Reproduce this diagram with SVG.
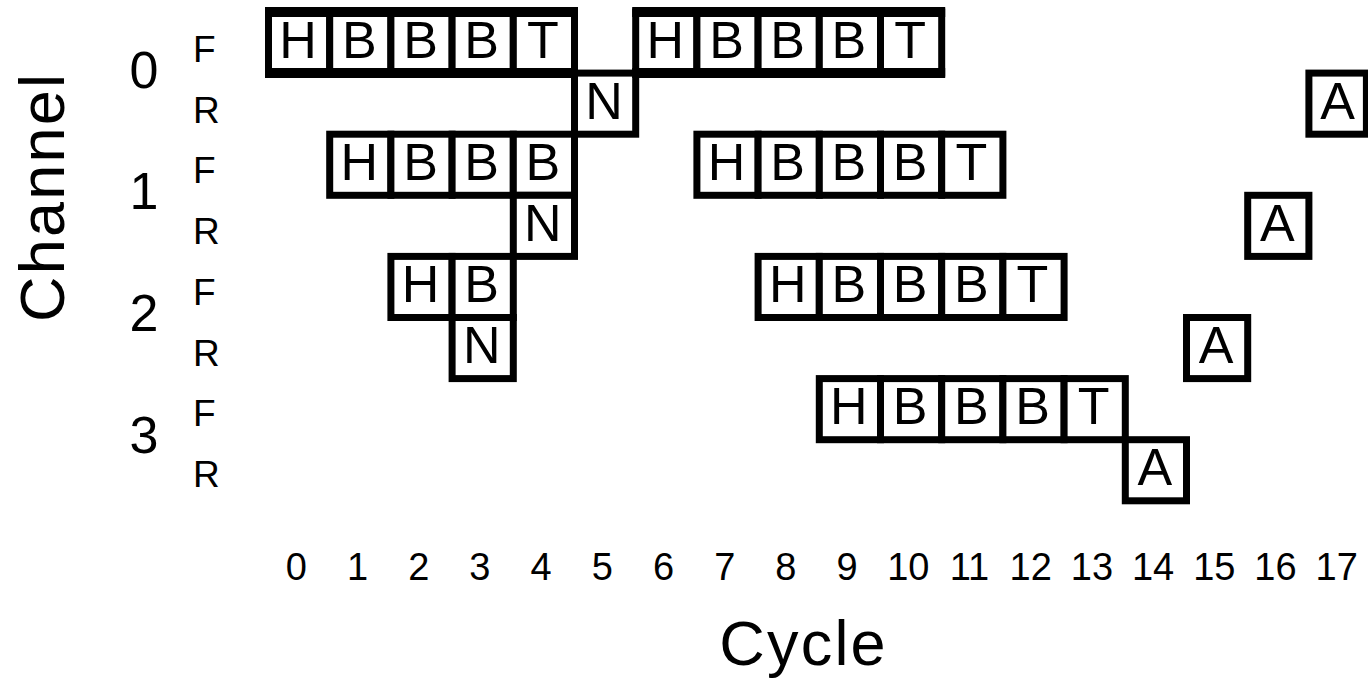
<svg xmlns="http://www.w3.org/2000/svg" width="1368" height="678" viewBox="0 0 1368 678">
<style>
.cell rect{fill:#fff;stroke:#000;stroke-width:7}
.cell text{font-family:"Liberation Sans",Arial,sans-serif;font-size:52px;text-anchor:middle;fill:#000}
.edge{stroke:#000;stroke-width:10;fill:none}
.lbl{font-family:"Liberation Sans",Arial,sans-serif;fill:#000}
.tick{font-size:38px;text-anchor:middle}
.dir{font-size:37px}
.chn{font-size:52px;text-anchor:middle}
.title{font-size:63px;letter-spacing:2.2px;text-anchor:middle}
</style>
<rect width="1368" height="678" fill="#fff"/>

<g id="row-0F">
<g id="c0F-0" class="cell"><rect x="268.5" y="12" width="61.2" height="61.1"/><text x="298.1" y="57.5">H</text></g>
<g id="c0F-1" class="cell"><rect x="329.7" y="12" width="61.2" height="61.1"/><text x="359.3" y="57.5">B</text></g>
<g id="c0F-2" class="cell"><rect x="390.9" y="12" width="61.2" height="61.1"/><text x="420.5" y="57.5">B</text></g>
<g id="c0F-3" class="cell"><rect x="452.1" y="12" width="61.2" height="61.1"/><text x="481.7" y="57.5">B</text></g>
<g id="c0F-4" class="cell"><rect x="513.3" y="12" width="61.2" height="61.1"/><text x="542.9" y="57.5">T</text></g>
<g id="c0F-6" class="cell"><rect x="635.7" y="12" width="61.2" height="61.1"/><text x="665.3" y="57.5">H</text></g>
<g id="c0F-7" class="cell"><rect x="696.9" y="12" width="61.2" height="61.1"/><text x="726.5" y="57.5">B</text></g>
<g id="c0F-8" class="cell"><rect x="758.1" y="12" width="61.2" height="61.1"/><text x="787.7" y="57.5">B</text></g>
<g id="c0F-9" class="cell"><rect x="819.3" y="12" width="61.2" height="61.1"/><text x="848.9" y="57.5">B</text></g>
<g id="c0F-10" class="cell"><rect x="880.5" y="12" width="61.2" height="61.1"/><text x="910.1" y="57.5">T</text></g>
</g>

<g id="row-0R">
<g id="c0R-5" class="cell"><rect x="574.5" y="73.1" width="61.2" height="61.1"/><text x="604.1" y="118.6">N</text></g>
<g id="c0R-17" class="cell"><rect x="1308.9" y="73.1" width="57.5" height="61.1"/><text x="1337.6" y="118.6">A</text></g>
</g>

<g id="row-0F-edges">
<path class="edge" d="M265 12H578M265 73.1H578M632.2 12H945.2M632.2 73.1H945.2"/>
</g>

<g id="row-1F">
<g id="c1F-1" class="cell"><rect x="329.7" y="134.2" width="61.2" height="61.1"/><text x="359.3" y="179.7">H</text></g>
<g id="c1F-2" class="cell"><rect x="390.9" y="134.2" width="61.2" height="61.1"/><text x="420.5" y="179.7">B</text></g>
<g id="c1F-3" class="cell"><rect x="452.1" y="134.2" width="61.2" height="61.1"/><text x="481.7" y="179.7">B</text></g>
<g id="c1F-4" class="cell"><rect x="513.3" y="134.2" width="61.2" height="61.1"/><text x="542.9" y="179.7">B</text></g>
<g id="c1F-7" class="cell"><rect x="696.9" y="134.2" width="61.2" height="61.1"/><text x="726.5" y="179.7">H</text></g>
<g id="c1F-8" class="cell"><rect x="758.1" y="134.2" width="61.2" height="61.1"/><text x="787.7" y="179.7">B</text></g>
<g id="c1F-9" class="cell"><rect x="819.3" y="134.2" width="61.2" height="61.1"/><text x="848.9" y="179.7">B</text></g>
<g id="c1F-10" class="cell"><rect x="880.5" y="134.2" width="61.2" height="61.1"/><text x="910.1" y="179.7">B</text></g>
<g id="c1F-11" class="cell"><rect x="941.7" y="134.2" width="61.2" height="61.1"/><text x="971.3" y="179.7">T</text></g>
</g>

<g id="row-1R">
<g id="c1R-4" class="cell"><rect x="513.3" y="195.3" width="61.2" height="61.1"/><text x="542.9" y="240.8">N</text></g>
<g id="c1R-16" class="cell"><rect x="1247.7" y="195.3" width="61.2" height="61.1"/><text x="1277.3" y="240.8">A</text></g>
</g>

<g id="row-2F">
<g id="c2F-2" class="cell"><rect x="390.9" y="256.4" width="61.2" height="61.1"/><text x="420.5" y="301.9">H</text></g>
<g id="c2F-3" class="cell"><rect x="452.1" y="256.4" width="61.2" height="61.1"/><text x="481.7" y="301.9">B</text></g>
<g id="c2F-8" class="cell"><rect x="758.1" y="256.4" width="61.2" height="61.1"/><text x="787.7" y="301.9">H</text></g>
<g id="c2F-9" class="cell"><rect x="819.3" y="256.4" width="61.2" height="61.1"/><text x="848.9" y="301.9">B</text></g>
<g id="c2F-10" class="cell"><rect x="880.5" y="256.4" width="61.2" height="61.1"/><text x="910.1" y="301.9">B</text></g>
<g id="c2F-11" class="cell"><rect x="941.7" y="256.4" width="61.2" height="61.1"/><text x="971.3" y="301.9">B</text></g>
<g id="c2F-12" class="cell"><rect x="1002.9" y="256.4" width="61.2" height="61.1"/><text x="1032.5" y="301.9">T</text></g>
</g>

<g id="row-2R">
<g id="c2R-3" class="cell"><rect x="452.1" y="317.5" width="61.2" height="61.1"/><text x="481.7" y="363">N</text></g>
<g id="c2R-15" class="cell"><rect x="1186.5" y="317.5" width="61.2" height="61.1"/><text x="1216.1" y="363">A</text></g>
</g>

<g id="row-3F">
<g id="c3F-9" class="cell"><rect x="819.3" y="378.6" width="61.2" height="61.1"/><text x="848.9" y="424.1">H</text></g>
<g id="c3F-10" class="cell"><rect x="880.5" y="378.6" width="61.2" height="61.1"/><text x="910.1" y="424.1">B</text></g>
<g id="c3F-11" class="cell"><rect x="941.7" y="378.6" width="61.2" height="61.1"/><text x="971.3" y="424.1">B</text></g>
<g id="c3F-12" class="cell"><rect x="1002.9" y="378.6" width="61.2" height="61.1"/><text x="1032.5" y="424.1">B</text></g>
<g id="c3F-13" class="cell"><rect x="1064.1" y="378.6" width="61.2" height="61.1"/><text x="1093.7" y="424.1">T</text></g>
</g>

<g id="row-3R">
<g id="c3R-14" class="cell"><rect x="1125.3" y="439.7" width="61.2" height="61.1"/><text x="1154.9" y="485.2">A</text></g>
</g>

<g id="channel-labels" class="lbl">
<text class="chn" x="144" y="87.5">0</text>
<text class="chn" x="144" y="209.2">1</text>
<text class="chn" x="144" y="330.9">2</text>
<text class="chn" x="144" y="452.6">3</text>
</g>

<g id="direction-labels" class="lbl dir">
<text x="193" y="62">F</text>
<text x="193" y="122.7">R</text>
<text x="193" y="183.4">F</text>
<text x="193" y="244.1">R</text>
<text x="193" y="304.8">F</text>
<text x="193" y="365.5">R</text>
<text x="193" y="426.2">F</text>
<text x="193" y="486.9">R</text>
</g>

<g id="cycle-ticks" class="lbl tick">
<text x="296.3" y="580">0</text>
<text x="357.5" y="580">1</text>
<text x="418.7" y="580">2</text>
<text x="479.9" y="580">3</text>
<text x="541.1" y="580">4</text>
<text x="602.3" y="580">5</text>
<text x="663.5" y="580">6</text>
<text x="724.7" y="580">7</text>
<text x="785.9" y="580">8</text>
<text x="847.1" y="580">9</text>
<text x="908.3" y="580">10</text>
<text x="969.5" y="580">11</text>
<text x="1030.7" y="580">12</text>
<text x="1091.9" y="580">13</text>
<text x="1153.1" y="580">14</text>
<text x="1214.3" y="580">15</text>
<text x="1275.5" y="580">16</text>
<text x="1336.7" y="580">17</text>
</g>

<g id="axis-titles" class="lbl">
<text class="title" x="803.6" y="665">Cycle</text>
<text class="title" transform="translate(63.5,198) rotate(-90)" x="1.1" y="0">Channel</text>
</g>
</svg>
